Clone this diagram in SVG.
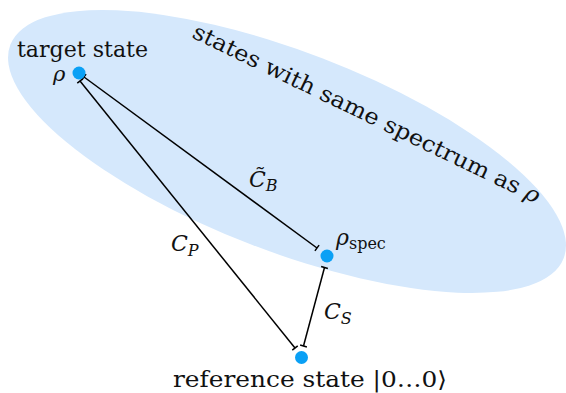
<svg xmlns="http://www.w3.org/2000/svg" width="566" height="393" viewBox="0 0 566 393">
<style>
  text { font-family: 'DejaVu Serif', serif; fill: #111; }
  .lbl { font-size: 22px; }
  .it { font-style: italic; }
  .sub { font-size: 16px; }
  .dot { fill: #0aa0f5; }
  .conn { stroke: #000; stroke-width: 1.5; fill: none; marker-start: url(#bar); marker-end: url(#bar); }
</style>
<defs>
  <marker id="bar" markerUnits="userSpaceOnUse" markerWidth="10" markerHeight="10" refX="5" refY="5" orient="auto">
    <path d="M5,1.5 L5,8.5" stroke="#000" stroke-width="1.5"/>
  </marker>
</defs>
<rect width="566" height="393" fill="#fff"/>
<g id="region">
  <ellipse cx="287" cy="151.5" rx="296.5" ry="99.7" transform="rotate(21.08 287 151.5)" fill="#d5e8fc"/>
  <text class="lbl" font-family="DejaVu Serif" font-size="23" transform="translate(191,37) rotate(25.8)" textLength="383" lengthAdjust="spacingAndGlyphs">states with same spectrum as <tspan class="it">ρ</tspan></text>
</g>
<g id="connectors">
  <line class="conn" x1="84" y1="77" x2="317" y2="248"/>
  <line class="conn" x1="80" y1="81" x2="295" y2="348"/>
  <line class="conn" x1="324.5" y1="267.5" x2="303.5" y2="346"/>
  <text id="label-CB" class="lbl it" font-family="DejaVu Serif" font-size="23" x="249" y="187">C&#x303;<tspan class="sub" font-size="17" dy="4">B</tspan></text>
  <text id="label-CP" class="lbl it" font-family="DejaVu Serif" font-size="23" x="171" y="251">C<tspan class="sub" font-size="17" dy="5">P</tspan></text>
  <text id="label-CS" class="lbl it" font-family="DejaVu Serif" font-size="23" x="324" y="319">C<tspan class="sub" font-size="17" dy="5">S</tspan></text>
</g>
<g id="node-rho">
  <circle class="dot" cx="79" cy="73" r="6.5"/>
  <text class="lbl" font-family="DejaVu Serif" x="17" y="56.5" textLength="131" lengthAdjust="spacingAndGlyphs">target state</text>
  <text class="it" font-family="DejaVu Serif" font-size="21" x="53" y="81">ρ</text>
</g>
<g id="node-spec">
  <circle class="dot" cx="327" cy="256" r="6.5"/>
  <text class="lbl" font-family="DejaVu Serif" font-size="23" x="336" y="245"><tspan class="it">ρ</tspan><tspan class="sub" font-size="17" dy="4">spec</tspan></text>
</g>
<g id="node-ref">
  <circle class="dot" cx="301.5" cy="357.5" r="6.5"/>
  <text class="lbl" font-family="DejaVu Serif" x="173" y="387" textLength="274" lengthAdjust="spacingAndGlyphs">reference state |0…0⟩</text>
</g>
</svg>
